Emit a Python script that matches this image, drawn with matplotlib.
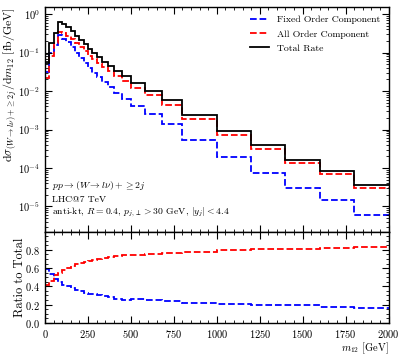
import numpy as np
import matplotlib
matplotlib.use("Agg")
import matplotlib.pyplot as plt
from matplotlib.ticker import MultipleLocator, LogLocator, NullFormatter

plt.rcParams["font.family"] = "serif"
plt.rcParams["font.serif"] = ["cmr10"]
plt.rcParams["mathtext.fontset"] = "cm"
plt.rcParams["axes.formatter.use_mathtext"] = True
plt.rcParams["font.size"] = 7.5

# m12 bin edges [GeV]
edges = [0, 25, 50, 75, 100, 125, 150, 175, 200, 225, 250, 275, 300,
         330, 365, 400, 450, 500, 580, 680, 800, 1000, 1200, 1400, 1600, 1800, 2000]

# dsigma/dm12 [fb/GeV]
fixed_order = [0.0313, 0.0972, 0.158, 0.279, 0.231, 0.184, 0.141, 0.0972, 0.0725,
               0.0548, 0.0394, 0.0298, 0.0228, 0.0168, 0.0126, 0.0090, 0.0063,
               0.0041, 0.0025, 0.00136, 0.00053, 0.000189, 7.4e-5, 3.1e-5, 1.5e-5, 5.9e-6]
all_order = [0.0217, 0.0828, 0.172, 0.341, 0.319, 0.276, 0.229, 0.173, 0.1375,
             0.1112, 0.0836, 0.0662, 0.0532, 0.0412, 0.0324, 0.0250, 0.0184,
             0.0119, 0.0077, 0.00444, 0.00187, 0.000731, 3.16e-4, 1.31e-4, 7.0e-5, 3.0e-5]

fixed_order = np.array(fixed_order)
all_order = np.array(all_order)
total = fixed_order + all_order

fig = plt.figure(figsize=(4.07, 3.56), dpi=100)
ax = fig.add_axes([0.1106, 0.349, 0.844, 0.6305])
axr = fig.add_axes([0.1106, 0.0935, 0.844, 0.2555], sharex=ax)

lw = 1.3
ax.stairs(fixed_order, edges, baseline=None, color="blue", ls="--", lw=lw,
          label="Fixed Order Component")
ax.stairs(all_order, edges, baseline=None, color="red", ls="--", lw=lw,
          label="All Order Component")
ax.stairs(total, edges, baseline=None, color="black", ls="-", lw=lw,
          label="Total Rate")

ax.set_yscale("log")
ax.set_xlim(0, 2000)
ax.set_ylim(2.2e-6, 1.5)
ax.set_ylabel(r"$\mathrm{d}\sigma_{(W\to l\nu)+\geq 2j}/\mathrm{d}m_{12}$ [fb/GeV]",
              fontsize=8.5, loc="top")
ax.yaxis.set_label_coords(-0.078, 1.0)
ax.set_yticks([1e-5, 1e-4, 1e-3, 1e-2, 1e-1, 1e0])
ax.yaxis.set_minor_locator(LogLocator(base=10, subs=np.arange(2, 10) * 1.0, numticks=10))
ax.yaxis.set_minor_formatter(NullFormatter())
ax.tick_params(labelbottom=False)

leg = ax.legend(loc="upper right", frameon=False, fontsize=7, handlelength=2.0,
                borderaxespad=0.45, labelspacing=0.55, handletextpad=0.8)

ax.text(0.02, 0.204, r"$pp\to(W\to l\nu)+\geq 2j$", transform=ax.transAxes,
        va="center", ha="left", fontsize=7)
ax.text(0.02, 0.144, "LHC@7 TeV", transform=ax.transAxes,
        va="center", ha="left", fontsize=7)
ax.text(0.02, 0.089, r"anti-kt, $R=0.4$, $p_{j,\perp}>30$ GeV, $|y_j|<4.4$",
        transform=ax.transAxes, va="center", ha="left", fontsize=7)

# ratio panel
axr.stairs(fixed_order / total, edges, baseline=None, color="blue", ls="--", lw=lw)
axr.stairs(all_order / total, edges, baseline=None, color="red", ls="--", lw=lw)
axr.set_ylim(0, 1.0)
axr.set_yticks([0.0, 0.2, 0.4, 0.6, 0.8])
axr.yaxis.set_minor_locator(MultipleLocator(0.05))
axr.set_ylabel("Ratio to Total", fontsize=9)
axr.yaxis.set_label_coords(-0.055, 0.5)
axr.set_xlabel(r"$m_{12}$ [GeV]", loc="right", labelpad=1, fontsize=7.5)
axr.xaxis.set_major_locator(MultipleLocator(250))
axr.xaxis.set_minor_locator(MultipleLocator(50))

for a in (ax, axr):
    a.tick_params(which="both", direction="in", top=True, right=True)
    a.tick_params(which="major", length=5, width=0.8)
    a.tick_params(which="minor", length=2.5, width=0.6)
    for sp in a.spines.values():
        sp.set_linewidth(1.0)

fig.savefig("out.png", dpi=100)
